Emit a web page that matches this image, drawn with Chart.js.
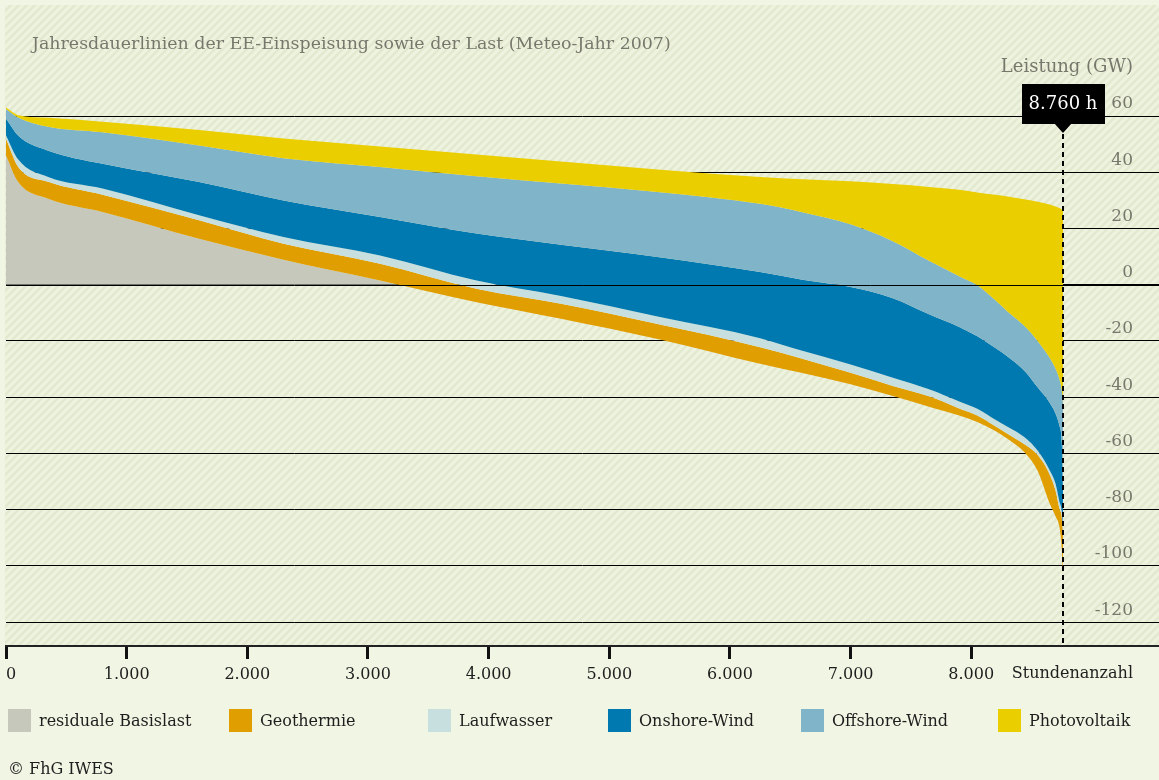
<!DOCTYPE html>
<html>
<head>
<meta charset="utf-8">
<script src="https://cdn.jsdelivr.net/npm/chart.js@4/dist/chart.umd.min.js"></script>
<style>
  html, body { margin: 0; padding: 0; background: #f1f5e3; }
  #wrap { position: relative; width: 1159px; height: 780px; font-family: 'DejaVu Serif', serif; }
  #wrap canvas { position: absolute; left: 0; top: 0; }
  .txt { position: absolute; white-space: nowrap; line-height: 1; }
  #title { left: 32px; top: 35px; font-size: 17.4px; color: #77786c; }
  #unit { right: 26px; top: 57px; font-size: 18px; color: #77786c; }
  #legend .sq { position: absolute; top: 709px; width: 23px; height: 23px; }
  #legend .lb { position: absolute; top: 713px; font-size: 16px; color: #1e1e1e; line-height: 1; white-space: nowrap; }
  #copy { left: 8px; top: 761px; font-size: 16px; color: #1e1e1e; }
</style>
</head>
<body>
<div id="wrap">
  <canvas id="dauerChart"></canvas>
  <div class="txt" id="title">Jahresdauerlinien der EE-Einspeisung sowie der Last (Meteo-Jahr 2007)</div>
  <div class="txt" id="unit">Leistung (GW)</div>
  <div id="legend"></div>
  <div class="txt" id="copy">© FhG IWES</div>
</div>

<script>
// Stundenanzahl (sortierte Stunden des Jahres)
var hours = [0, 100, 350, 800, 1600, 2300, 3100, 3900, 4600, 5400, 6250, 6600, 7000,
             7350, 7650, 7900, 8050, 8200, 8300, 8450, 8550, 8650, 8700, 8730, 8750, 8760];

// Obergrenzen der Flaechen in GW (Last minus kumulierte EE)
var photovoltaik = [63.0, 60.3, 59.4, 58.0, 55.0, 52.0, 49.2, 46.3, 43.8, 41.0, 38.3, 37.5, 36.8,
                    35.8, 34.8, 33.8, 32.8, 32.0, 31.4, 30.3, 29.5, 28.5, 27.8, 27.3, 26.8, 26.4];
var offshore = [62.5, 59.5, 56.2, 54.2, 49.5, 45.0, 41.9, 38.6, 36.0, 33.0, 28.8, 25.8, 21.5,
                15.5, 8.5, 3.0, -0.2, -5.5, -9.5, -15.0, -20.0, -26.0, -30.0, -33.5, -37.5, -42.0];
var onshore = [59.1, 53.1, 47.7, 43.0, 36.5, 30.0, 24.1, 18.2, 14.2, 9.9, 4.5, 1.8, -0.8,
               -4.8, -10.5, -15.0, -18.3, -22.5, -25.5, -31.0, -36.5, -42.0, -46.0, -50.0, -56.0, -72.0];
var laufwasser = [53.1, 44.6, 38.3, 34.2, 24.7, 17.0, 10.4, 1.5, -4.0, -11.3, -19.0, -23.5, -28.4,
                  -33.1, -37.2, -41.5, -44.1, -48.0, -50.5, -54.5, -59.0, -66.0, -71.0, -77.0, -80.5, -86.0];
var geothermie = [51.9, 42.0, 36.6, 32.0, 22.9, 14.6, 7.5, -1.4, -6.8, -14.0, -22.2, -26.3, -31.3,
                  -36.0, -39.7, -44.0, -46.5, -50.3, -53.0, -57.0, -60.5, -67.5, -73.5, -79.5, -82.5, -88.0];
var basislast = [46.0, 36.6, 30.6, 25.9, 16.4, 8.9, 1.5, -6.2, -12.1, -19.3, -28.1, -31.4, -35.4,
                 -39.6, -43.4, -46.5, -48.8, -52.0, -54.8, -60.0, -66.2, -77.8, -82.5, -86.0, -94.0, -103.0];

var xTicks = [0, 1000, 2000, 3000, 4000, 5000, 6000, 7000, 8000];
var yTicks = [-120, -100, -80, -60, -40, -20, 0, 20, 40, 60];
var markerHour = 8760;

var labels = ['Photovoltaik', 'Offshore-Wind', 'Onshore-Wind', 'Laufwasser', 'Geothermie', 'residuale Basislast'];
var colors = ['#eace00', '#80b4c9', '#0079b0', '#c8dfe0', '#e09e00', '#c5c8ba'];
var series = [photovoltaik, offshore, onshore, laufwasser, geothermie, basislast];

var FONT = "'DejaVu Serif', serif";

function pts(arr) {
  return hours.map(function (h, i) { return { x: h, y: arr[i] }; });
}

// Schraffur im Diagrammbereich
function makeHatch(ctx) {
  var c = document.createElement('canvas');
  c.width = 8; c.height = 8;
  var p = c.getContext('2d');
  p.fillStyle = '#eef3df';
  p.fillRect(0, 0, 8, 8);
  p.strokeStyle = '#e3e9cf';
  p.lineWidth = 2.5;
  p.beginPath();
  p.moveTo(-2, 10); p.lineTo(10, -2);
  p.moveTo(-6, 6); p.lineTo(6, -6);
  p.moveTo(2, 14); p.lineTo(14, 2);
  p.stroke();
  return ctx.createPattern(c, 'repeat');
}

var hatchPlugin = {
  id: 'hatch',
  beforeDraw: function (chart) {
    var ctx = chart.ctx, a = chart.chartArea;
    ctx.save();
    ctx.fillStyle = '#f1f5e3';
    ctx.fillRect(0, 0, chart.width, chart.height);
    ctx.fillStyle = makeHatch(ctx);
    ctx.fillRect(a.left - 1, a.top, a.right - a.left + 1, a.bottom - a.top);
    ctx.restore();
  }
};

var markerPlugin = {
  id: 'marker',
  afterDatasetsDraw: function (chart) {
    var ctx = chart.ctx, a = chart.chartArea;
    var xs = chart.scales.x, ys = chart.scales.y;
    ctx.save();
    // Nulllinie ueber den Flaechen
    var y0 = Math.round(ys.getPixelForValue(0)) + 0.5;
    ctx.strokeStyle = '#000';
    ctx.lineWidth = 1;
    ctx.beginPath();
    ctx.moveTo(a.left, y0); ctx.lineTo(a.right, y0);
    ctx.stroke();

    // gestrichelte Linie bei 8.760 h
    var x = Math.round(xs.getPixelForValue(markerHour));
    ctx.lineWidth = 2;
    ctx.setLineDash([5, 4]);
    ctx.beginPath();
    ctx.moveTo(x, 134); ctx.lineTo(x, a.bottom);
    ctx.stroke();
    ctx.setLineDash([]);

    // Beschriftungskasten
    ctx.fillStyle = '#000';
    ctx.fillRect(x - 41, 84, 83, 40);
    ctx.beginPath();
    ctx.moveTo(x - 9, 123); ctx.lineTo(x + 9, 123); ctx.lineTo(x, 133);
    ctx.closePath();
    ctx.fill();
    ctx.fillStyle = '#fff';
    ctx.font = '18px ' + FONT;
    ctx.textAlign = 'center';
    ctx.textBaseline = 'middle';
    ctx.fillText('8.760 h', x, 104);

    // Achsentitel rechts unten
    ctx.fillStyle = '#1e1e1e';
    ctx.font = '16px ' + FONT;
    ctx.textAlign = 'right';
    ctx.fillText('Stundenanzahl', 1133, 674);
    ctx.restore();
  }
};

var datasets = series.map(function (arr, i) {
  var fill = '+1';
  if (i === series.length - 1) {
    fill = { target: { value: 0 }, above: colors[i], below: 'rgba(0,0,0,0)' };
  }
  return {
    label: labels[i],
    data: pts(arr),
    backgroundColor: colors[i],
    borderWidth: 0,
    pointRadius: 0,
    cubicInterpolationMode: 'monotone',
    fill: fill
  };
});

var ctx = document.getElementById('dauerChart').getContext('2d');
var dauerChart = new Chart(ctx, {
  type: 'line',
  data: { datasets: datasets },
  options: {
    responsive: true,
    maintainAspectRatio: false,
    animation: false,
    layout: { padding: { top: 5, left: 6, right: 0, bottom: 83 } },
    plugins: {
      legend: { display: false },
      tooltip: { enabled: false }
    },
    scales: {
      x: {
        type: 'linear',
        min: 0,
        max: 9556,
        afterBuildTicks: function (s) { s.ticks = xTicks.map(function (v) { return { value: v }; }); },
        afterFit: function (s) { s.paddingLeft = 0; s.paddingRight = 0; s.height = 51; },
        ticks: {
          color: '#1e1e1e',
          font: { family: FONT, size: 16 },
          padding: 6,
          maxRotation: 0,
          callback: function (v) { return v === 0 ? '\u00a0\u00a00' : (v / 1000).toFixed(3); }
        },
        grid: { drawOnChartArea: false, drawTicks: true, tickLength: 13, tickWidth: 3, tickColor: '#111' },
        border: { color: '#222', width: 2 }
      },
      y: {
        position: 'right',
        min: -128.5,
        max: 99.5,
        afterBuildTicks: function (s) { s.ticks = yTicks.map(function (v) { return { value: v }; }); },
        afterFit: function (s) { s.width = 0; s.paddingTop = 0; s.paddingBottom = 0; },
        ticks: {
          mirror: true,
          padding: -26,
          labelOffset: -12,
          color: '#77786c',
          font: { family: FONT, size: 17 },
          callback: function (v) { return String(v); }
        },
        grid: { color: '#000', lineWidth: 1, drawTicks: false },
        border: { display: false }
      }
    }
  },
  plugins: [hatchPlugin, markerPlugin]
});

// Legende
var legendX = [8, 229, 428, 608, 801, 998];
var legendOrder = [5, 4, 3, 2, 1, 0];
var leg = document.getElementById('legend');
legendOrder.forEach(function (idx, k) {
  var sq = document.createElement('div');
  sq.className = 'sq';
  sq.style.left = legendX[k] + 'px';
  sq.style.background = colors[idx];
  leg.appendChild(sq);
  var lb = document.createElement('div');
  lb.className = 'lb';
  lb.style.left = (legendX[k] + 31) + 'px';
  lb.textContent = labels[idx];
  leg.appendChild(lb);
});
</script>
</body>
</html>
